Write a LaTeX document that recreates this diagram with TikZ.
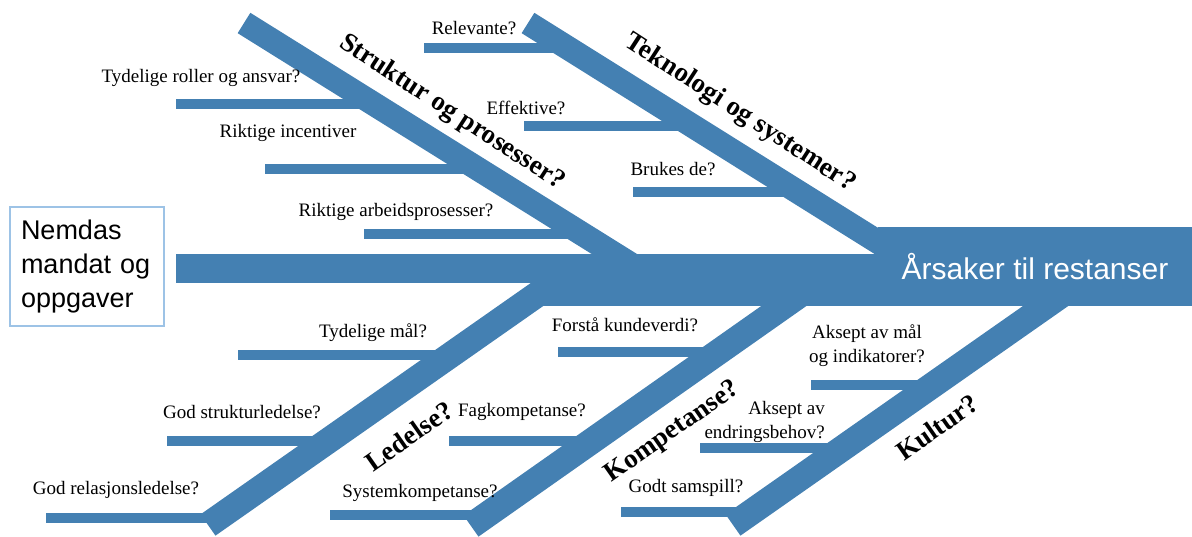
\documentclass[tikz,border=0pt]{standalone}
\usepackage{fontspec}
\setmainfont{Liberation Serif}
\setsansfont{Liberation Sans}
\usepackage{tikz}
\usetikzlibrary{positioning}

\definecolor{bonecol}{RGB}{68,128,178}
\definecolor{boxcol}{RGB}{157,195,230}

\begin{document}
\begin{tikzpicture}
    [
    x=1pt, y=-1pt,
    bone/.style={draw=bonecol,line width=24pt},
    lowbone/.style={draw=bonecol,line width=26pt},
    rib/.style={draw=bonecol,line width=10pt},
    cause/.style={inner sep=0pt,font=\fontsize{19}{24}\selectfont,align=center},
    group/.style={inner sep=0pt,font=\bfseries\fontsize{27}{30}\selectfont}
    ]
    \useasboundingbox (0,0) rectangle (1192,537);

    % spine
    \fill [bonecol] (176,254) rectangle (1192,283);
    \fill [bonecol] (540,283) rectangle (1192,306);

    % main bones
    \coordinate (s0) at (244,23);
    \coordinate (s1) at (640,270);
    \coordinate (t0) at (528,23);
    \coordinate (t1) at (918,267);
    \coordinate (l0) at (208,525);
    \coordinate (l1) at (572,270);
    \coordinate (k0) at (471,526);
    \coordinate (k1) at (835,270);
    \coordinate (c0) at (733,525);
    \coordinate (c1) at (1097,270);
    \draw [bone] (s0) -- (s1);
    \draw [bone] (t0) -- (t1);
    \draw [lowbone] (l0) -- (l1);
    \draw [lowbone] (k0) -- (k1);
    \draw [lowbone] (c0) -- (c1);

    % ribs
    \coordinate (sa) at (176,104);   \coordinate (sa') at (374,104);
    \coordinate (sb) at (265,169.5); \coordinate (sb') at (479,169.5);
    \coordinate (sc) at (364,234);   \coordinate (sc') at (582,234);
    \coordinate (ta) at (424,48);    \coordinate (ta') at (570,48);
    \coordinate (tb) at (524,126);   \coordinate (tb') at (692,126);
    \coordinate (tc) at (633,192);   \coordinate (tc') at (798,192);
    \coordinate (la) at (238,355.5); \coordinate (la') at (450,355.5);
    \coordinate (lb) at (167,440.5); \coordinate (lb') at (329,440.5);
    \coordinate (lc) at (46,518);    \coordinate (lc') at (218,518);
    \coordinate (ka) at (558,352.5); \coordinate (ka') at (719,352.5);
    \coordinate (kb) at (449,440.5); \coordinate (kb') at (593,440.5);
    \coordinate (kc) at (330,514.5); \coordinate (kc') at (487,514.5);
    \coordinate (ca) at (811,385);   \coordinate (ca') at (933,385);
    \coordinate (cb) at (700,448);   \coordinate (cb') at (843,448);
    \coordinate (cc) at (621,512);   \coordinate (cc') at (752,512);
    \foreach \r in {sa,sb,sc,ta,tb,tc,la,lb,lc,ka,kb,kc,ca,cb,cc}
      \draw [rib] (\r) -- (\r');

    % head and box
    \node (head) at (1035,266.5) [fill=bonecol,minimum width=314pt,minimum height=79pt,inner sep=0pt,
      text=white,font=\sffamily\fontsize{30}{34}\selectfont] {Årsaker til restanser};
    \node (task) at (87,266.5) [draw=boxcol,line width=1.5pt,minimum width=154pt,minimum height=119pt,
      inner sep=0pt,text width=132pt,align=left,font=\sffamily\fontsize{27}{34}\selectfont]
      {Nemdas\\mandat og\\oppgaver};

    % group labels
    \node (gs) at (452,113) [group,rotate=-33] {Struktur og prosesser?};
    \node (gt) at (740,113) [group,rotate=-33] {Teknologi og systemer?};
    \node (gl) at (409,436) [group,rotate=35] {Ledelse?};
    \node (gk) at (673,432) [group,rotate=35] {Kompetanse?};
    \node (gc) at (937,427) [group,rotate=35] {Kultur?};

    % causes
    \node (qsa) at (201,78) [cause] {Tydelige roller og ansvar?};
    \node (qsb) at (288,133) [cause] {Riktige incentiver};
    \node (qsc) at (396,212) [cause] {Riktige arbeidsprosesser?};
    \node (qta) at (474,28) [cause] {Relevante?};
    \node (qtb) at (526,108) [cause] {Effektive?};
    \node (qtc) at (673,169) [cause] {Brukes de?};
    \node (qla) at (373,333) [cause] {Tydelige mål?};
    \node (qlb) at (242,412) [cause] {God strukturledelse?};
    \node (qlc) at (116,490) [cause] {God relasjonsledelse?};
    \node (qka) at (625,325) [cause] {Forstå kundeverdi?};
    \node (qkb) at (522,412) [cause] {Fagkompetanse?};
    \node (qkc) at (420,493) [cause] {Systemkompetanse?};
    \node (qca) at (867,346) [cause] {Aksept av mål\\og indikatorer?};
    \node (qcb) at (825,422) [cause,anchor=east,align=right] {Aksept av\\endringsbehov?};
    \node (qcc) at (686,488) [cause] {Godt samspill?};
\end{tikzpicture}
\end{document}
